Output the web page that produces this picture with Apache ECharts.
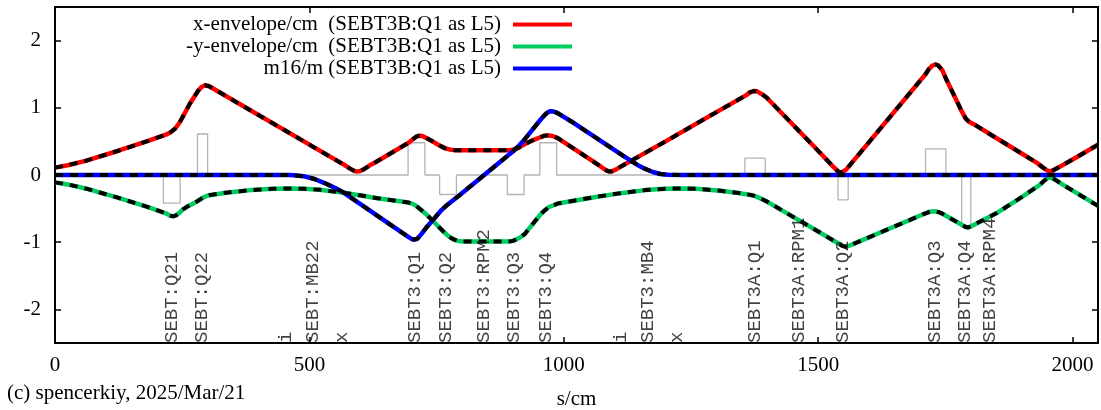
<!DOCTYPE html>
<html><head><meta charset="utf-8">
<script src="https://cdn.jsdelivr.net/npm/echarts@6/dist/echarts.min.js"></script>
<style>html,body{margin:0;padding:0;background:#fff}#c{width:1101px;height:410px}</style>
</head><body><div id="c"></div>
<script>
// ---- data (s in cm) ----
const xEnvS = [0,25,60,120,180,218,228,236,244,250,265,281,288,295,303,555,570,580,587,593,600,608,618,630,695,703,710,716,722,729,740,752,758,766,775,785,792,892,900,910,923,940,955,962,970,978,988,1000,1030,1060,1072,1080,1086,1090,1095,1102,1112,1200,1300,1358,1366,1373,1380,1390,1399,1500,1530,1538,1542,1548,1555,1711,1718,1724,1730,1736,1744,1752,1770,1782,1790,1797,1805,1850,1900,1930,1942,1950,1955,1962,1972,2000,2050];
const xEnvV = [0.11,0.145,0.21,0.35,0.50,0.60,0.64,0.69,0.77,0.85,1.06,1.25,1.31,1.335,1.32,0.21,0.145,0.095,0.065,0.05,0.06,0.09,0.14,0.19,0.48,0.53,0.57,0.585,0.58,0.555,0.51,0.455,0.43,0.40,0.38,0.37,0.368,0.368,0.375,0.40,0.46,0.52,0.565,0.585,0.59,0.58,0.55,0.49,0.34,0.19,0.13,0.085,0.06,0.05,0.055,0.08,0.125,0.50,0.935,1.185,1.23,1.25,1.245,1.20,1.15,0.36,0.12,0.06,0.04,0.045,0.08,1.50,1.58,1.625,1.645,1.63,1.56,1.42,1.14,0.95,0.84,0.79,0.76,0.55,0.32,0.18,0.11,0.07,0.055,0.07,0.11,0.23,0.45];

const yEnvS = [0,25,60,120,180,218,226,232,238,245,250,260,270,281,290,297,303,340,385,430,460,490,520,568,634,695,703,710,718,729,745,758,766,775,784,792,800,892,900,908,916,923,955,962,970,980,988,1014,1060,1112,1160,1200,1228,1260,1308,1340,1358,1370,1380,1390,1399,1407,1472,1540,1548,1553,1558,1565,1711,1720,1728,1736,1744,1752,1782,1790,1795,1800,1850,1900,1935,1945,1950,1955,1960,1968,1980,2050];
const yEnvV = [-0.11,-0.14,-0.20,-0.33,-0.47,-0.57,-0.605,-0.615,-0.60,-0.56,-0.52,-0.47,-0.43,-0.385,-0.34,-0.315,-0.30,-0.26,-0.225,-0.205,-0.20,-0.205,-0.22,-0.265,-0.345,-0.41,-0.43,-0.46,-0.51,-0.58,-0.70,-0.80,-0.86,-0.92,-0.96,-0.98,-0.99,-0.99,-0.98,-0.955,-0.92,-0.88,-0.58,-0.53,-0.48,-0.45,-0.425,-0.39,-0.33,-0.27,-0.225,-0.205,-0.20,-0.205,-0.235,-0.265,-0.285,-0.30,-0.325,-0.36,-0.395,-0.43,-0.716,-1.02,-1.055,-1.065,-1.06,-1.04,-0.57,-0.545,-0.54,-0.55,-0.575,-0.61,-0.74,-0.775,-0.78,-0.765,-0.57,-0.33,-0.15,-0.08,-0.05,-0.035,-0.045,-0.08,-0.14,-0.46];

const m16S = [0,460,470,490,510,530,550,568,695,702,707,712,720,729,745,758,770,785,792,892,900,910,923,955,962,968,974,980,988,1014,1060,1100,1117,1130,1145,1160,1175,1190,1205,1228,2050];
const m16V = [0,0,-0.005,-0.02,-0.06,-0.12,-0.19,-0.265,-0.925,-0.955,-0.96,-0.95,-0.88,-0.79,-0.65,-0.535,-0.45,-0.36,-0.32,0.30,0.35,0.42,0.53,0.83,0.89,0.93,0.95,0.945,0.92,0.80,0.57,0.37,0.285,0.22,0.15,0.09,0.045,0.015,0.003,0,0];

// lattice (quadrupoles): start, end, strength
const quadStart = [213, 280, 694, 756, 889, 953, 1356, 1539, 1711, 1782];
const quadEnd   = [246, 300, 727, 789, 922, 986, 1396, 1559, 1751, 1800];
const quadK     = [-0.42, 0.61, 0.48, -0.29, -0.29, 0.48, 0.25, -0.37, 0.39, -0.77];

// element labels
const elemS = [234, 292, 457, 511, 567, 711, 772, 847, 906, 968, 1116, 1169, 1226, 1380, 1466, 1552, 1733, 1792, 1841];
const elemNames = ['SEBT:Q21','SEBT:Q22','i','SEBT:MB22','x','SEBT3:Q1','SEBT3:Q2','SEBT3:RPM2','SEBT3:Q3','SEBT3:Q4','i','SEBT3:MB4','x','SEBT3A:Q1','SEBT3A:RPM1','SEBT3A:Q2','SEBT3A:Q3','SEBT3A:Q4','SEBT3A:RPM4'];

const seriesNames = ['x-envelope/cm  (SEBT3B:Q1 as L5)', '-y-envelope/cm  (SEBT3B:Q1 as L5)', 'm16/m (SEBT3B:Q1 as L5)'];
const seriesColors = ['#ff0000', '#00cc60', '#0000ff'];
const xTicks = [0, 500, 1000, 1500, 2000];

// ---- build ----
const XMAX = 2050;
function pairs(s, v) { return s.map((x, i) => [x, v[i]]); }
const lattice = [[0, 0]];
quadStart.forEach((s1, i) => {
  lattice.push([s1, 0], [s1, quadK[i]], [quadEnd[i], quadK[i]], [quadEnd[i], 0]);
});
lattice.push([XMAX, 0]);

const curves = [pairs(xEnvS, xEnvV), pairs(yEnvS, yEnvV), pairs(m16S, m16V)];
const serif = 'Liberation Serif, Times New Roman, serif';

const series = [{
  type: 'line', name: 'lattice', data: lattice, symbol: 'none', silent: true,
  lineStyle: { color: '#b4b4b4', width: 1.3 }, z: 1, animation: false
}];
curves.forEach((d, i) => {
  series.push({
    type: 'line', name: seriesNames[i], data: d, symbol: 'none',
    lineStyle: { color: seriesColors[i], width: 4.5 }, itemStyle: { color: seriesColors[i] },
    z: 2, animation: false
  });
});
curves.forEach((d, i) => {
  series.push({
    type: 'line', name: 'dash' + i, data: d, symbol: 'none', silent: true,
    lineStyle: { color: '#000', width: 4, type: [8, 7] }, z: 3, animation: false
  });
});
series.push({
  type: 'scatter', name: 'labels', symbolSize: 0, clip: false, silent: true, z: 4,
  data: elemS.map((s, i) => ({ value: [s, -2.5], name: elemNames[i] })),
  label: {
    show: true, formatter: p => p.name, rotate: 90, position: 'inside',
    align: 'left', verticalAlign: 'middle', offset: [0, -2],
    fontFamily: 'Liberation Mono, Courier New, monospace', fontSize: 19, color: '#111'
  },
  animation: false
});

const axisCommon = {
  axisLine: { show: true, onZero: false, lineStyle: { color: '#000', width: 2 } },
  axisTick: { show: true, inside: true, length: 6, lineStyle: { color: '#000', width: 1.5 } },
  splitLine: { show: false }
};

const option = {
  animation: false,
  backgroundColor: '#fff',
  grid: { left: 55, right: 3, top: 7, bottom: 67, containLabel: false, outerBoundsMode: 'none' },
  legend: {
    data: seriesNames, orient: 'vertical', align: 'right', right: 529, top: 14, padding: 0,
    icon: 'rect', itemWidth: 59, itemHeight: 4, itemGap: 1, selectedMode: false,
    textStyle: { fontFamily: serif, fontSize: 21, color: '#000', padding: [0, 7, 0, 0] }
  },
  xAxis: [
    Object.assign({
      type: 'value', min: 0, max: XMAX, interval: 500, position: 'bottom',
      axisLabel: { show: true, margin: 12, fontFamily: serif, fontSize: 21, color: '#000',
        formatter: v => xTicks.includes(v) ? String(v) : '' },
      name: 's/cm', nameLocation: 'middle', nameGap: 46,
      nameTextStyle: { fontFamily: serif, fontSize: 21, color: '#000' }
    }, axisCommon),
    Object.assign({
      type: 'value', min: 0, max: XMAX, interval: 500, position: 'top',
      axisLabel: { show: false }
    }, axisCommon)
  ],
  yAxis: [
    Object.assign({
      type: 'value', min: -2.5, max: 2.5, splitNumber: 5, position: 'left',
      axisLabel: { show: true, margin: 14, fontFamily: serif, fontSize: 21, color: '#000',
        formatter: v => Number.isInteger(v) ? String(v) : '' }
    }, axisCommon),
    Object.assign({
      type: 'value', min: -2.5, max: 2.5, splitNumber: 5, position: 'right',
      axisLabel: { show: false }
    }, axisCommon)
  ],
  graphic: [{
    type: 'text', left: 7, top: 383,
    style: { text: '(c) spencerkiy, 2025/Mar/21', font: '21px ' + serif, fill: '#000' }
  }],
  series: series
};

const chart = echarts.init(document.getElementById('c'), null, { renderer: 'canvas' });
chart.setOption(option);
</script>
</body></html>
